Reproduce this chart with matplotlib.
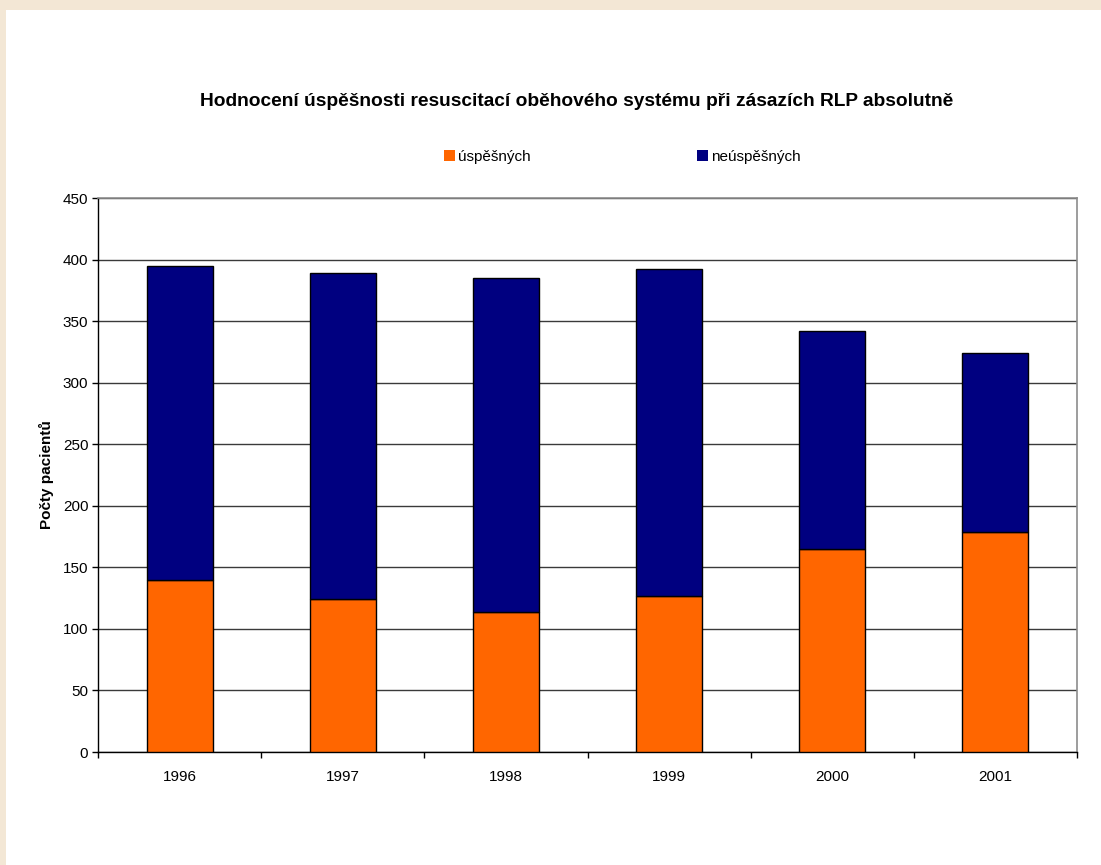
import matplotlib.pyplot as plt
from matplotlib.patches import Rectangle, Patch
import numpy as np

plt.rcParams['font.family'] = ['Liberation Sans', 'DejaVu Sans']

# resuscitation results per year
roky = ['1996', '1997', '1998', '1999', '2000', '2001']
uspesnych = [140, 124, 114, 127, 165, 179]
neuspesnych = [255, 265, 271, 265, 177, 145]

W, H = 1101, 865
fig = plt.figure(figsize=(W / 100, H / 100), dpi=100, facecolor='#f3e7d5')
# white sheet, beige strip left and top
fig.patches.append(Rectangle((6 / W, 0), (W - 6) / W, (H - 10) / H,
                             transform=fig.transFigure, facecolor='white',
                             edgecolor='none', zorder=-5))

ax = fig.add_axes([98 / W, (H - 752) / H, (1077 - 98) / W, (752 - 198) / H])
ax.set_zorder(2)
ax.set_facecolor('white')

x = np.arange(len(roky))
sirka = 0.405
ax.bar(x, uspesnych, sirka, color='#ff6600', edgecolor='black', linewidth=1, zorder=3)
ax.bar(x, neuspesnych, sirka, bottom=uspesnych, color='#000080',
       edgecolor='black', linewidth=1, zorder=3)

ax.set_xlim(-0.5, len(roky) - 0.5)
ax.set_ylim(0, 450)
ax.set_yticks(np.arange(0, 451, 50))
ax.yaxis.grid(True, color='#3a3a3a', linewidth=1, zorder=1)
ax.set_axisbelow(True)

# category boundaries as major ticks, year labels on minor ticks
ax.set_xticks(np.arange(-0.5, len(roky), 1.0))
ax.set_xticklabels([])
ax.set_xticks(x, minor=True)
ax.set_xticklabels(roky, minor=True)
ax.tick_params(axis='x', which='major', direction='out', length=4, width=1, color='black')
ax.tick_params(axis='x', which='minor', length=0, pad=13, labelsize=11)
ax.tick_params(axis='y', direction='out', length=4, width=1, pad=3, labelsize=11)

for s in ['left', 'bottom']:
    ax.spines[s].set_color('black')
    ax.spines[s].set_linewidth(1)
for s in ['right', 'top']:
    ax.spines[s].set_color('#8c8c8c')
    ax.spines[s].set_linewidth(1.2)

ax.set_ylabel('Počty pacientů', fontsize=11, fontweight='bold', labelpad=6)

fig.text(577 / W, 1 - 102 / H,
         'Hodnocení úspěšnosti resuscitací oběhového systému při zásazích RLP absolutně',
         ha='center', va='center', fontsize=13.8, fontweight='bold')

handles = [Patch(facecolor='#ff6600', edgecolor='none', label='úspěšných'),
           Patch(facecolor='#000080', edgecolor='none', label='neúspěšných')]
fig.legend(handles=handles, ncol=2, loc='center left', bbox_to_anchor=(444 / W, 1 - 157 / H),
           frameon=False, fontsize=11, handlelength=0.7, handleheight=0.7,
           handletextpad=0.2, columnspacing=10.9, borderpad=0, borderaxespad=0)

fig.savefig('out.png', dpi=100, facecolor=fig.get_facecolor())
